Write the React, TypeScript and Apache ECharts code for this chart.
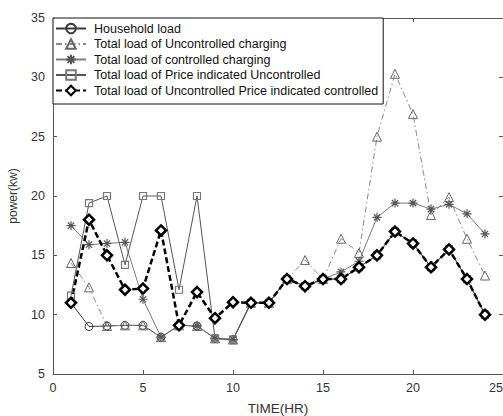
import React, { useEffect, useRef } from "react";
import * as echarts from "echarts";

const hours = [1, 2, 3, 4, 5, 6, 7, 8, 9, 10, 11, 12, 13, 14, 15, 16, 17, 18, 19, 20, 21, 22, 23, 24];

const householdLoad = [11, 9, 9.05, 9.1, 9.1, 8.1, 9.1, 9.05, 8.0, 7.9, 11, 11, 13, 12.4, 13, 13, 14, 15, 17, 16, 14, 15.5, 13, 10];
const uncontrolledCharging = [14.35, 12.3, 9.05, 9.1, 9.1, 8.1, 9.1, 9.05, 8.0, 7.9, 11, 11, 13, 14.6, 13, 16.4, 15.2, 25, 30.3, 26.9, 18.4, 19.9, 16.4, 13.3];
const controlledCharging = [17.5, 15.9, 16.0, 16.1, 11.3, 8.1, 9.1, 9.05, 8.0, 7.9, 11, 11, 13, 12.4, 13, 13.6, 14.5, 18.2, 19.4, 19.4, 18.9, 19.3, 18.5, 16.8];
const priceUncontrolled = [11.6, 19.4, 20, 14.2, 20, 20, 12.1, 20, 8.0, 7.9, 11, 11, 13, 12.4, 13, 13, 14, 15, 17, 16, 14, 15.5, 13, 10];
const priceControlled = [11, 18, 15, 12.1, 12.2, 17.1, 9.1, 11.9, 9.7, 11.05, 11, 11, 13, 12.4, 13, 13, 14, 15, 17, 16, 14, 15.5, 13, 10];

const seriesNames = [
  "Household load",
  "Total load of Uncontrolled charging",
  "Total load of controlled charging",
  "Total load of Price indicated Uncontrolled",
  "Total load of Uncontrolled Price indicated controlled",
];

const xTicks = { min: 0, max: 25, interval: 5 };
const yTicks = { min: 5, max: 35, interval: 5 };

const FONT = "Liberation Sans, Arial, sans-serif";
const asterisk = "path://M0,5L10,5M5,0L5,10M1.5,1.5L8.5,8.5M8.5,1.5L1.5,8.5";

function pairs(vals: number[]) {
  return hours.map((h, i) => [h, vals[i]]);
}

export default function App() {
  const ref = useRef<HTMLDivElement>(null);
  useEffect(() => {
    document.body.style.margin = "0";
    const chart = echarts.init(ref.current!, null, { renderer: "svg" });
    const axisCommon = {
      axisLine: { show: true, onZero: false, lineStyle: { color: "#555", width: 1 } },
      axisTick: { show: true, inside: true, length: 4, lineStyle: { color: "#555" } },
      splitLine: { show: false },
    };
    chart.setOption({
      animation: false,
      backgroundColor: "#fff",
      grid: {
        left: 53,
        right: 0,
        top: 18,
        bottom: 42,
        containLabel: false,
        outerBoundsMode: "none",
      },
      legend: {
        orient: "vertical",
        left: 53,
        top: 18,
        padding: [4, 5, 7, 2],
        itemWidth: 30,
        itemHeight: 12,
        itemGap: 2.5,
        backgroundColor: "#fff",
        borderColor: "#111",
        borderWidth: 1,
        borderRadius: 0,
        textStyle: { fontFamily: FONT, fontSize: 12.5, color: "#111", padding: [0, 0, 0, 3] },
        data: seriesNames,
      },
      xAxis: [
        {
          type: "value",
          ...xTicks,
          name: "TIME(HR)",
          nameLocation: "middle",
          nameGap: 27,
          nameTextStyle: { fontFamily: FONT, fontSize: 13.5, color: "#333" },
          axisLabel: { fontFamily: FONT, fontSize: 12.5, color: "#333", margin: 7, alignMaxLabel: "right" },
          ...axisCommon,
        },
        {
          type: "value",
          position: "top",
          ...xTicks,
          axisLabel: { show: false },
          ...axisCommon,
        },
      ],
      yAxis: [
        {
          type: "value",
          ...yTicks,
          name: "power(kw)",
          nameLocation: "middle",
          nameGap: 34,
          nameTextStyle: { fontFamily: FONT, fontSize: 12, color: "#333" },
          axisLabel: { fontFamily: FONT, fontSize: 12.5, color: "#333", margin: 8 },
          ...axisCommon,
        },
        {
          type: "value",
          position: "right",
          ...yTicks,
          axisLabel: { show: false },
          ...axisCommon,
        },
      ],
      series: [
        {
          name: seriesNames[0],
          type: "line",
          data: pairs(householdLoad),
          symbol: "circle",
          symbolSize: 8,
          lineStyle: { color: "#3a3a3a", width: 1 },
          itemStyle: { color: "transparent", borderColor: "#3a3a3a", borderWidth: 1 },
        },
        {
          name: seriesNames[1],
          type: "line",
          data: pairs(uncontrolledCharging),
          symbol: "triangle",
          symbolSize: 9,
          lineStyle: { color: "#8a8a8a", width: 1, type: [6, 3, 1.5, 3] },
          itemStyle: { color: "transparent", borderColor: "#666", borderWidth: 1 },
        },
        {
          name: seriesNames[2],
          type: "line",
          data: pairs(controlledCharging),
          symbol: asterisk,
          symbolSize: 9,
          lineStyle: { color: "#7a7a7a", width: 1 },
          itemStyle: { color: "transparent", borderColor: "#555", borderWidth: 1.2 },
        },
        {
          name: seriesNames[3],
          type: "line",
          data: pairs(priceUncontrolled),
          symbol: "rect",
          symbolSize: 7,
          lineStyle: { color: "#555", width: 1 },
          itemStyle: { color: "transparent", borderColor: "#777", borderWidth: 1.2 },
        },
        {
          name: seriesNames[4],
          type: "line",
          data: pairs(priceControlled),
          symbol: "diamond",
          symbolSize: 10,
          lineStyle: { color: "#000", width: 2.5, type: [6, 3] },
          itemStyle: { color: "#fff", borderColor: "#000", borderWidth: 2.5 },
        },
      ],
    });
    return () => chart.dispose();
  }, []);
  return (
    <div
      ref={ref}
      style={{ position: "fixed", left: 0, top: 0, width: 503, height: 416, overflow: "hidden" }}
    />
  );
}
